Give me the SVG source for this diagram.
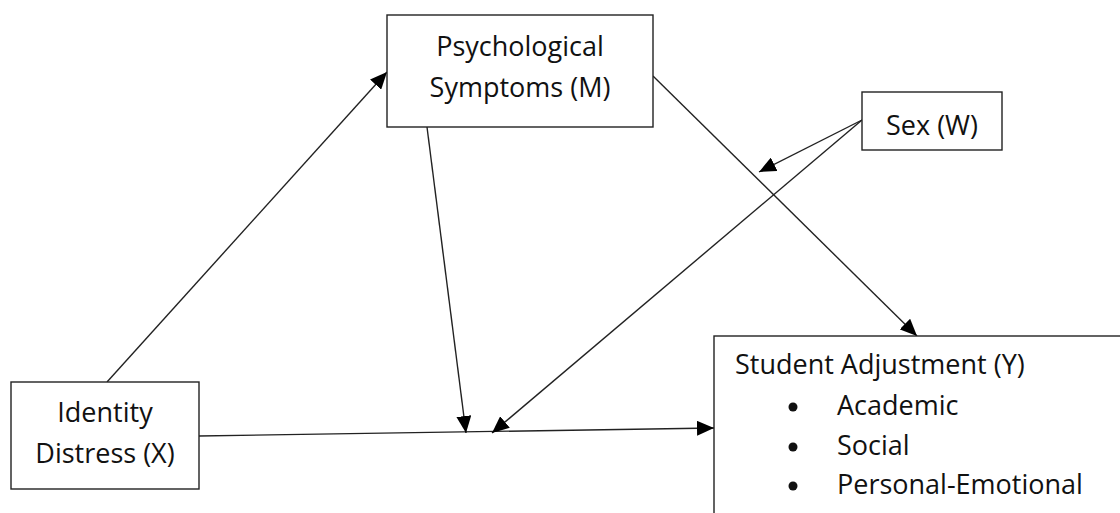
<svg xmlns="http://www.w3.org/2000/svg" width="1120" height="513" viewBox="0 0 1120 513">
<defs>
<marker id="ah" viewBox="0 0 17 15" refX="17" refY="7.5" markerWidth="17" markerHeight="15" markerUnits="userSpaceOnUse" orient="auto">
<path d="M0,0 L17,7.5 L0,15 Z" fill="#000"/>
</marker>
</defs>
<style>
.box{fill:#fff;stroke:#222;stroke-width:1.4}
.t{font-family:"Open Sans","Noto Sans",sans-serif;font-size:27px;fill:#111}
.c{text-anchor:middle}
.ln{stroke:#222;stroke-width:1.4;fill:none;marker-end:url(#ah)}
</style>
<rect width="1120" height="513" fill="#fff"/>
<g id="connectors">
<line class="ln" x1="107" y1="382" x2="387" y2="72"/>
<line class="ln" x1="653" y1="76" x2="917" y2="336"/>
<line class="ln" x1="199" y1="436" x2="714" y2="428"/>
<line class="ln" x1="427" y1="127" x2="466" y2="433"/>
<line class="ln" x1="862" y1="120" x2="492" y2="433"/>
<line class="ln" x1="862" y1="120" x2="759" y2="172"/>
</g>
<g id="node-m">
<rect class="box" x="387" y="15" width="266" height="112"/>
<text class="t c" x="520" y="56">Psychological</text>
<text class="t c" x="520" y="97">Symptoms (M)</text>
</g>
<g id="node-w">
<rect class="box" x="862" y="92" width="140" height="58"/>
<text class="t c" x="932" y="135">Sex (W)</text>
</g>
<g id="node-x">
<rect class="box" x="11" y="382" width="188" height="107"/>
<text class="t c" x="105" y="422">Identity</text>
<text class="t c" x="105" y="463">Distress (X)</text>
</g>
<g id="node-y">
<rect class="box" x="714" y="336" width="420" height="200"/>
<text class="t" x="735" y="374">Student Adjustment (Y)</text>
<circle cx="793" cy="407" r="4.5" fill="#111"/>
<text class="t" x="837" y="415">Academic</text>
<circle cx="793" cy="447" r="4.5" fill="#111"/>
<text class="t" x="837" y="455">Social</text>
<circle cx="793" cy="486" r="4.5" fill="#111"/>
<text class="t" x="837" y="494">Personal-Emotional</text>
</g>
</svg>
